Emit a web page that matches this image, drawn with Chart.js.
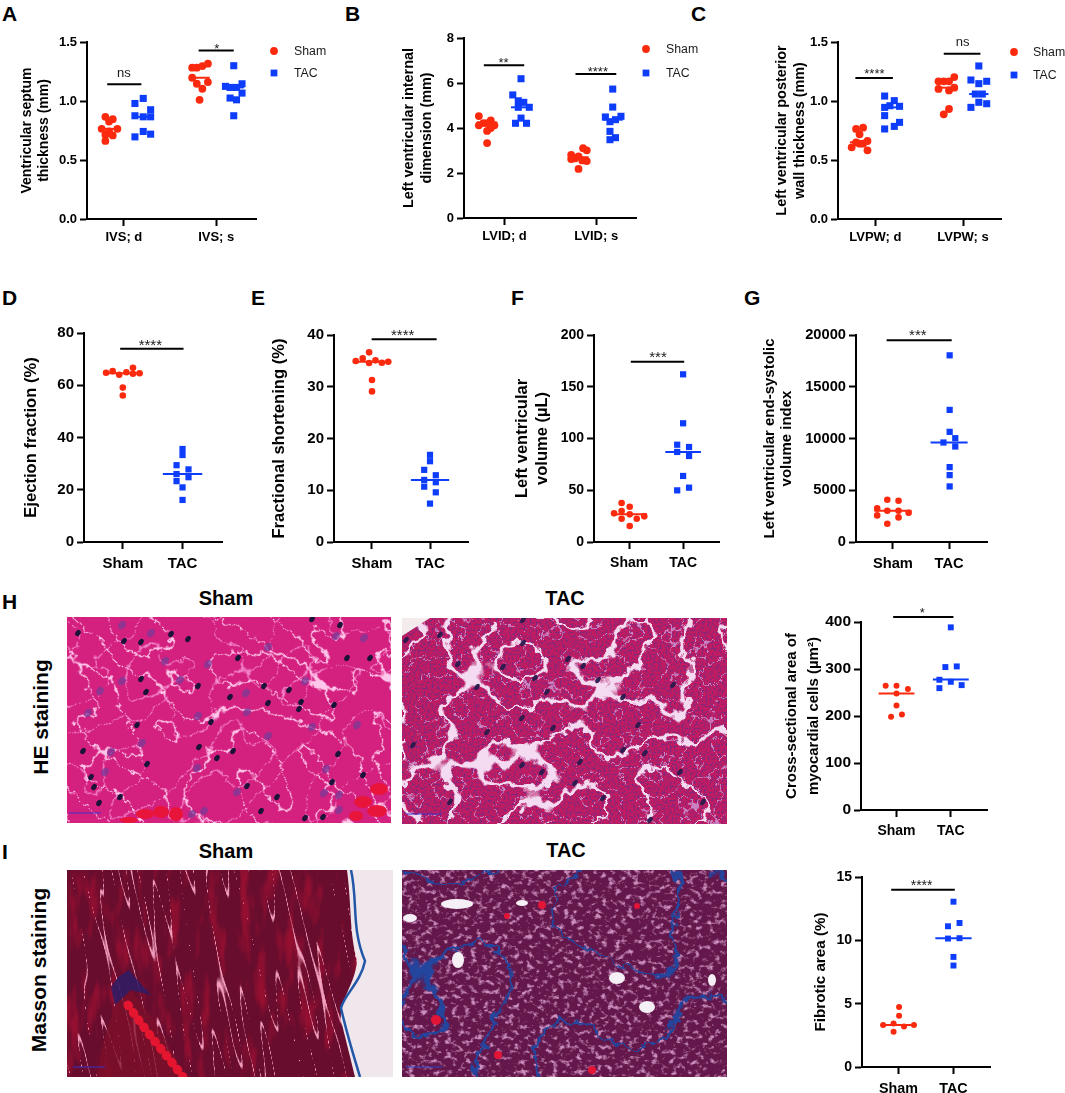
<!DOCTYPE html>
<html><head><meta charset="utf-8">
<script src="https://cdn.jsdelivr.net/npm/chart.js@4"></script>
<style>
html,body{margin:0;padding:0;background:#fff}
#page{position:relative;width:1065px;height:1093px;overflow:hidden;font-family:"Liberation Sans",Arial,sans-serif;color:#000}
canvas{position:absolute}
svg.tissue{position:absolute;display:block}
.t{position:absolute;font-weight:bold;white-space:nowrap;line-height:1}
.c{transform:translate(-50%,-50%)}
.r{transform:translate(-50%,-50%) rotate(-90deg)}
</style></head><body><div id="page">
<svg width="0" height="0" style="position:absolute"><defs>
<filter id="heCrack" x="0" y="0" width="100%" height="100%" color-interpolation-filters="sRGB"><feTurbulence type="turbulence" baseFrequency="0.017 0.038" numOctaves="1" seed="4" result="a"/><feColorMatrix in="a" values="0 0 0 0 1 0 0 0 0 .78 0 0 0 0 .92 0 0 0 -70 1.7" result="l"/><feTurbulence type="fractalNoise" baseFrequency="0.12" numOctaves="2" seed="7" result="j"/><feDisplacementMap in="l" in2="j" scale="12" xChannelSelector="R" yChannelSelector="G"/></filter>
<filter id="heCrack2" x="0" y="0" width="100%" height="100%" color-interpolation-filters="sRGB"><feTurbulence type="turbulence" baseFrequency="0.03 0.02" numOctaves="1" seed="12" result="a"/><feColorMatrix in="a" values="0 0 0 0 .98 0 0 0 0 .6 0 0 0 0 .85 0 0 0 -90 1.5" result="l"/><feTurbulence type="fractalNoise" baseFrequency="0.1" numOctaves="2" seed="3" result="j"/><feDisplacementMap in="l" in2="j" scale="10" xChannelSelector="R" yChannelSelector="G"/></filter>
<filter id="grain" x="0" y="0" width="100%" height="100%" color-interpolation-filters="sRGB"><feTurbulence type="fractalNoise" baseFrequency="0.5" numOctaves="2" seed="2"/><feColorMatrix values="0 0 0 0 .48 0 0 0 0 .16 0 0 0 0 .5 0 0 0 3.5 -1.5"/></filter>
<filter id="tacGap" x="0" y="0" width="100%" height="100%" color-interpolation-filters="sRGB"><feTurbulence type="turbulence" baseFrequency="0.021 0.024" numOctaves="1" seed="11" result="a"/><feColorMatrix in="a" values="0 0 0 0 .96 0 0 0 0 .86 0 0 0 0 .95 0 0 0 -34 1.9" result="l"/><feTurbulence type="fractalNoise" baseFrequency="0.09" numOctaves="2" seed="5" result="j"/><feDisplacementMap in="l" in2="j" scale="16" xChannelSelector="R" yChannelSelector="G"/></filter>
<filter id="tacFine" x="0" y="0" width="100%" height="100%" color-interpolation-filters="sRGB"><feTurbulence type="turbulence" baseFrequency="0.05" numOctaves="1" seed="6" result="a"/><feColorMatrix in="a" values="0 0 0 0 .82 0 0 0 0 .62 0 0 0 0 .86 0 0 0 -50 1.3" result="l"/><feTurbulence type="fractalNoise" baseFrequency="0.2" numOctaves="2" seed="5" result="j"/><feDisplacementMap in="l" in2="j" scale="9" xChannelSelector="R" yChannelSelector="G"/></filter>
<filter id="mStreak" x="0" y="0" width="100%" height="100%" color-interpolation-filters="sRGB"><feTurbulence type="turbulence" baseFrequency="0.075 0.006" numOctaves="1" seed="5"/><feColorMatrix values="0 0 0 0 .95 0 0 0 0 .62 0 0 0 0 .74 0 0 0 -55 1.3"/></filter>
<filter id="mRed" x="0" y="0" width="100%" height="100%" color-interpolation-filters="sRGB"><feTurbulence type="fractalNoise" baseFrequency="0.07 0.018" numOctaves="3" seed="8"/><feColorMatrix values="0 0 0 0 .72 0 0 0 0 .07 0 0 0 0 .2 0 0 0 4 -2"/></filter>
<filter id="mBlue" x="0" y="0" width="100%" height="100%" color-interpolation-filters="sRGB"><feTurbulence type="turbulence" baseFrequency="0.011 0.013" numOctaves="1" seed="14" result="a"/><feColorMatrix in="a" values="0 0 0 0 .14 0 0 0 0 .27 0 0 0 0 .62 0 0 0 -75 1.7" result="l"/><feTurbulence type="fractalNoise" baseFrequency="0.08" numOctaves="3" seed="2" result="j"/><feDisplacementMap in="l" in2="j" scale="16" xChannelSelector="R" yChannelSelector="G"/></filter>
<filter id="mPale" x="0" y="0" width="100%" height="100%" color-interpolation-filters="sRGB"><feTurbulence type="fractalNoise" baseFrequency="0.16 0.2" numOctaves="3" seed="3"/><feColorMatrix values="0 0 0 0 .9 0 0 0 0 .68 0 0 0 0 .86 0 0 0 4 -2.1"/></filter>
</defs></svg>

<svg class="tissue" id="heSham" style="left:67px;top:617px" width="324" height="206">
<rect width="324" height="206" fill="#d4207f"/>
<rect x="-80" y="-80" width="484" height="366" filter="url(#heCrack)" transform="rotate(42 162 103)"/>
<rect x="-80" y="-80" width="484" height="366" filter="url(#heCrack2)" transform="rotate(42 162 103)" opacity=".8"/>
<g fill="#e8143a"><ellipse cx="78" cy="197" rx="9" ry="5"/><ellipse cx="94" cy="195" rx="8" ry="6"/><ellipse cx="109" cy="197" rx="7" ry="7"/><ellipse cx="62" cy="203" rx="9" ry="3"/><ellipse cx="296" cy="185" rx="9" ry="6"/><ellipse cx="312" cy="172" rx="9" ry="6"/><ellipse cx="310" cy="194" rx="10" ry="6"/><ellipse cx="289" cy="199" rx="7" ry="5"/></g>
<path d="M2 196 H34" stroke="#3a33c8" stroke-width="1"/>
</svg>

<svg class="tissue" id="heTac" style="left:402px;top:618px" width="325" height="206">
<rect width="325" height="206" fill="#c81a5e"/>
<rect width="325" height="206" filter="url(#grain)"/>
<rect width="325" height="206" filter="url(#tacFine)" opacity=".8"/>
<rect width="325" height="206" filter="url(#tacGap)"/>
<path d="M0 0 H28 L0 18 Z" fill="#f4ecec"/>
<path d="M4 196 H40" stroke="#3a33c8" stroke-width="1"/>
</svg>

<svg class="tissue" id="mSham" style="left:67px;top:870px" width="326" height="207">
<rect width="326" height="207" fill="#680d2e"/>
<rect width="326" height="207" filter="url(#mRed)" opacity=".55"/>
<rect x="-60" y="-60" width="446" height="327" filter="url(#mStreak)" transform="rotate(-11 163 103)"/>
<path d="M30 207 C35 170 45 135 62 118 C90 150 105 180 118 207 Z" fill="#7c0f2a" opacity=".75"/>
<path d="M44 118 C50 105 58 103 62 100 C70 110 78 118 84 125 L64 120 L48 135 Z" fill="#2f1c66" opacity=".85"/>
<path d="M61 135 C85 170 100 185 116 207" stroke="#e3152f" stroke-width="9" stroke-linecap="round" stroke-dasharray="1 8" fill="none"/>
<path d="M280 0 C285 40 282 60 290 91 C288 115 272 130 274 150 C280 175 284 190 288 207 H326 V0 Z" fill="#f0e7ec"/>
<path d="M284 0 C291 31 284 58 298 91 C294 112 277 125 274 138 C280 165 288 190 293 207" stroke="#2257a8" stroke-width="2.5" fill="none"/>
<path d="M6 197 H38" stroke="#3a33c8" stroke-width="1"/>
</svg>

<svg class="tissue" id="mTac" style="left:402px;top:870px" width="325" height="207">
<rect width="325" height="207" fill="#64174a"/>
<rect width="325" height="207" filter="url(#mPale)" opacity=".8"/>
<rect x="-20" y="-20" width="365" height="247" filter="url(#mBlue)"/>
<g fill="#f5f0f5"><ellipse cx="55" cy="34" rx="16" ry="5"/><ellipse cx="8" cy="48" rx="7" ry="4"/><ellipse cx="56" cy="90" rx="6" ry="8"/><ellipse cx="215" cy="108" rx="8" ry="6"/><ellipse cx="245" cy="137" rx="8" ry="6"/><ellipse cx="120" cy="33" rx="6" ry="3"/><ellipse cx="310" cy="110" rx="4" ry="6"/></g>
<g fill="#e31537"><circle cx="140" cy="35" r="4"/><circle cx="235" cy="36" r="3"/><circle cx="34" cy="150" r="5"/><circle cx="190" cy="200" r="4"/><circle cx="96" cy="185" r="4"/><circle cx="105" cy="46" r="3"/></g>
<path d="M4 197 H40" stroke="#2a43c8" stroke-width="1"/>
</svg>

<div class="t" style="left:2px;top:3px;font-size:21px">A</div>
<div class="t" style="left:345px;top:3px;font-size:21px">B</div>
<div class="t" style="left:691px;top:3px;font-size:21px">C</div>
<div class="t" style="left:2px;top:287px;font-size:21px">D</div>
<div class="t" style="left:251px;top:287px;font-size:21px">E</div>
<div class="t" style="left:511px;top:287px;font-size:21px">F</div>
<div class="t" style="left:744px;top:287px;font-size:21px">G</div>
<div class="t" style="left:2px;top:591px;font-size:21px">H</div>
<div class="t" style="left:2px;top:841px;font-size:21px">I</div>
<div class="t c" style="left:226px;top:598px;font-size:20px">Sham</div>
<div class="t c" style="left:565px;top:598px;font-size:20px">TAC</div>
<div class="t c" style="left:226px;top:851px;font-size:20px">Sham</div>
<div class="t c" style="left:566px;top:850px;font-size:20px">TAC</div>
<div class="t r" style="left:40px;top:717px;font-size:21px">HE staining</div>
<div class="t r" style="left:38px;top:970px;font-size:21px">Masson staining</div>
</div>
<script>
const RED='#fb2a0e', BLUE='#0d3dfb';

// Panel A
const ivsLabels=['IVS; d','IVS; s'];
const ivsDSham=[.866,.846,.826,.764,.764,.742,.713,.708,.662], ivsDShamJ=[-4,4,0,-8,9,0,-4,4,-4];
const ivsDTac=[.979,1.022,.926,.875,.866,.866,.742,.696,.719], ivsDTacJ=[-9,0,8,-9,0,8,0,-9,8];
const ivsSSham=[1.282,1.282,1.296,1.316,1.197,1.16,1.146,1.104,1.01], ivsSShamJ=[-8,-3,3,9,-8,9,-3,3,0];
const ivsSTac=[1.299,1.146,1.124,1.115,1.115,1.067,1.025,1.01,.875], ivsSTacJ=[0,9,-9,-4,3,9,-4,3,0];
// Panel B
const lvidLabels=['LVID; d','LVID; s'];
const lvidDSham=[4.53,3.33,4.34,4.12,4.12,4.22,4.0,3.87,4.22], lvidDShamJ=[-9,0,4,-9,8,-4,4,0,0];
const lvidDTac=[6.19,5.47,5.21,5.14,4.92,4.92,4.44,4.21,4.21], lvidDTacJ=[0,-9,-3,3,-3,9,0,-6,6];
const lvidSSham=[3.1,3.01,2.8,2.74,2.65,2.62,2.56,2.53,2.18], lvidSShamJ=[5,9,-8,0,-4,-8,4,9,0];
const lvidSTac=[5.73,4.93,4.49,4.52,4.37,4.28,3.85,3.57,3.48], lvidSTacJ=[0,0,-8,9,3,-3,-3,3,-3];
// Panel C
const lvpwLabels=['LVPW; d','LVPW; s'];
const lvpwDSham=[.763,.774,.718,.661,.65,.638,.638,.607,.582], lvpwDShamJ=[-4,4,0,9,-4,0,4,-9,9];
const lvpwDTac=[1.042,1.003,.946,.96,.955,.876,.819,.785,.763], lvpwDTacJ=[-8,3,-8,-2,9,-8,9,3,-8];
const lvpwSSham=[1.203,1.167,1.167,1.167,1.102,1.113,1.09,.932,.887], lvpwSShamJ=[9,-9,-3,3,-9,9,3,3,-3];
const lvpwSTac=[1.297,1.178,1.167,1.147,1.059,1.059,.989,.977,.946], lvpwSTacJ=[0,-9,9,0,-4,4,0,9,-9];
// Panels D-I
const groupLabels=['Sham','TAC'];
const efSham=[64.8,65.4,64,65,66.7,64.4,64.6,59.1,56.1], efShamJ=[-28,-17,-6,6,17,17,28,0,0];
const efTac=[35.6,33.3,29.4,27.8,26,24.8,23.3,20.9,16.1], efTacJ=[0,0,-10,10,-10,10,-10,0,0];
const fsSham=[34.97,35.48,36.65,34.58,35.1,34.65,34.84,31.29,29.1], fsShamJ=[-28,-16,-5,-5,6,17,28,0,0];
const fsTac=[16.84,15.61,13.94,12.9,12,11.55,10.7,9.6,7.42], fsTacJ=[0,0,-10,10,-10,10,-10,10,0];
const lvvSham=[37.7,34.1,30,27.7,26.7,22.5,22.5,24.8,15.5], lvvShamJ=[-14,1,-14,-28,1,-14,14,28,1];
const lvvTac=[162,114.7,94,91.8,87,83.1,63.8,52.5,49.9], lvvTacJ=[0,0,-11,11,-11,11,0,11,-11];
const esviSham=[4083,3987,3247,3022,3022,2829,2572,2379,1768], esviShamJ=[-10,10,-28,-10,10,28,-28,10,-10];
const esviTac=[18036,12764,10642,10031,9613,9227,7234,6462,5369], esviTacJ=[1,1,1,11,-10,11,1,1,1];
const csaSham=[264.3,264.3,257.2,248,222.4,198.2,203.2], csaShamJ=[-20,0,21,0,0,-10,10];
const csaTac=[388.6,304.1,305.5,277.1,272.8,265.7,259.3], csaTacJ=[0,-10,11,-21,0,20,-21];
const fibSham=[4.73,4.05,3.44,3.31,3.2,3.31,2.78], fibShamJ=[1,1,-9,-28,10,28,-9];
const fibTac=[13.05,11.37,11.11,10.14,10.17,8.69,8.01], fibTacJ=[0,11,-10,-10,11,0,0];

// Stained-micrograph stand-ins: nuclei seen in the two HE photographs (image pixels)
const heShamDark=[[11,16],[57,24],[104,17],[121,22],[74,25],[171,41],[197,69],[222,73],[280,41],[303,41],[273,8],[245,2],[74,62],[79,75],[131,69],[201,86],[234,85],[232,92],[267,88],[70,108],[144,105],[132,130],[166,134],[271,137],[265,165],[24,160],[27,170],[80,147],[16,134],[180,169],[210,180],[194,194],[238,201],[256,200],[32,186],[53,180],[150,141],[163,80],[296,158]];
const heShamPale=[[55,8],[84,16],[269,19],[297,21],[98,44],[141,47],[201,30],[55,64],[33,74],[113,63],[179,76],[238,64],[21,96],[131,99],[180,95],[290,108],[245,110],[201,119],[75,126],[44,135],[130,151],[38,155],[259,152],[170,175],[257,176],[137,194],[272,193],[125,197],[272,178]];
const heTacDark=[[4,22],[38,17],[56,46],[75,69],[133,60],[101,49],[121,25],[166,41],[181,48],[196,62],[221,79],[236,107],[221,132],[243,135],[271,67],[85,114],[151,110],[120,100],[120,147],[178,144],[173,165],[201,180],[248,202],[301,184],[278,154],[48,184],[121,2],[145,74],[140,154],[11,127]];
function addNuclei(id,list,fill,rx,ry,op){
  const s=document.getElementById(id);
  const g=document.createElementNS('http://www.w3.org/2000/svg','g');
  g.setAttribute('fill',fill);g.setAttribute('opacity',op);
  list.forEach(([x,y])=>{const e=document.createElementNS('http://www.w3.org/2000/svg','ellipse');
    e.setAttribute('cx',x);e.setAttribute('cy',y);e.setAttribute('rx',rx);e.setAttribute('ry',ry);
    e.setAttribute('transform','rotate(35 '+x+' '+y+')');g.appendChild(e);});
  s.appendChild(g);
}
addNuclei('heSham',heShamPale,'#7a3a98',3.6,4.6,.75);
addNuclei('heSham',heShamDark,'#1a1238',2.4,3.4,1);
addNuclei('heTac',heTacDark,'#2a1a4c',2.2,3.6,.95);

const FONT='"Liberation Sans", Arial, sans-serif';
const pts=(v,j,c)=>v.map((y,i)=>({x:c+j[i]/100,y}));

const overlay={id:'overlay',afterDatasetsDraw(ch,a,o){
  const c=ch.ctx,X=ch.scales.x,Y=ch.scales.y;c.save();
  (o.sig||[]).forEach(s=>{
    const f=s.t==='ns'?13:o.starSize;
    c.font=f+'px '+FONT;c.fillStyle='#1a1a1a';c.textAlign='center';c.textBaseline='alphabetic';
    c.fillText(s.t,X.getPixelForValue(s.x),Y.getPixelForValue(s.y)+(s.t==='ns'?.26:.59)*f);
  });
  if(o.legend){const L=o.legend,x0=ch.chartArea.right+L.dx,top=ch.chartArea.top;
    c.font='12.3px '+FONT;c.textAlign='left';c.textBaseline='middle';
    [['Sham',RED,L.y1,true],['TAC',BLUE,L.y2,false]].forEach(([t,col,dy,circ])=>{
      c.fillStyle=col;
      if(circ){c.beginPath();c.arc(x0,top+dy,o.r,0,Math.PI*2);c.fill();}
      else{c.fillRect(x0-3.4,top+dy-3.4,6.8,6.8);}
      c.fillStyle='#1a1a1a';c.fillText(t,x0+L.text,top+dy+.5);
    });
  }
  c.restore();
}};

function panel(p){
  const lh=p.lineH, cl=Math.round(p.titleX-lh/2), ct=p.plot.t-30, cb=p.plot.b+40;
  const cr=p.plot.r+(p.legend?75:12);
  const cv=document.createElement('canvas');
  cv.width=cr-cl;cv.height=cb-ct;cv.style.left=cl+'px';cv.style.top=ct+'px';
  document.getElementById('page').appendChild(cv);
  const ds=[];
  p.groups.forEach(g=>{
    ds.push({label:g.tac?'TAC':'Sham',data:pts(g.v,g.j,g.c),showLine:false,clip:false,
      pointStyle:g.tac?'rect':'circle',pointRadius:g.tac?p.rRect:p.rCirc,pointBorderWidth:0,
      pointBackgroundColor:g.tac?BLUE:RED,pointBorderColor:g.tac?BLUE:RED});
    ds.push({label:'median',data:[{x:g.c-p.half,y:g.m},{x:g.c+p.half,y:g.m}],showLine:true,clip:false,
      pointRadius:0,borderWidth:2,borderColor:g.tac?BLUE:RED});
  });
  p.brackets.forEach(b=>ds.push({label:'bracket',data:[{x:b[0],y:b[2]},{x:b[1],y:b[2]}],showLine:true,clip:false,pointRadius:0,borderWidth:2,borderColor:'#000'}));
  new Chart(cv,{type:'scatter',data:{datasets:ds},plugins:[overlay],options:{
    responsive:false,animation:false,devicePixelRatio:1,
    layout:{padding:{top:30,right:cr-p.plot.r,left:0,bottom:0}},
    plugins:{legend:{display:false},tooltip:{enabled:false},
      overlay:{sig:p.sig,legend:p.legend,starSize:p.star,r:p.rCirc}},
    scales:{
      x:{type:'linear',min:p.xr[0],max:p.xr[1],
        afterBuildTicks(s){s.ticks=[{value:1},{value:2}];},
        afterFit(s){s.height=40;},
        grid:{drawOnChartArea:false,drawTicks:true,tickLength:7,tickWidth:2,tickColor:'#000'},
        border:{display:true,color:'#000',width:2},
        ticks:{autoSkip:false,maxRotation:0,padding:p.xPad,color:'#000',font:{family:FONT,size:p.xSize,weight:'bold'},
          callback:(v)=>p.labels[v-1]}},
      y:{type:'linear',min:0,max:p.yMax,
        afterFit(s){s.width=p.plot.l-cl;},
        grid:{drawOnChartArea:false,drawTicks:true,tickLength:7,tickWidth:2,tickColor:'#000'},
        border:{display:true,color:'#000',width:2},
        ticks:{stepSize:p.step,padding:3,color:'#000',font:{family:FONT,size:p.ySize,weight:'bold'},
          callback:v=>p.decimals?v.toFixed(p.decimals):String(v)},
        title:{display:true,text:p.title,color:'#000',padding:0,
          font:{family:FONT,size:p.tSize,weight:'bold',lineHeight:lh/p.tSize}}}
    }}});
}
const four=(a,aj,b,bj,c,cj,d,dj,ms,cs)=>[
  {v:a,j:aj,c:cs[0],m:ms[0]},{v:b,j:bj,c:cs[1],m:ms[1],tac:true},
  {v:c,j:cj,c:cs[2],m:ms[2]},{v:d,j:dj,c:cs[3],m:ms[3],tac:true}];
const two=(a,aj,b,bj,ms)=>[{v:a,j:aj,c:1,m:ms[0]},{v:b,j:bj,c:2,m:ms[1],tac:true}];

panel({plot:{l:87,r:256,t:42,b:219},xr:[.601,2.431],yMax:1.5,step:.5,decimals:1,labels:ivsLabels,
  title:['Ventricular septum','thickness (mm)'],titleX:27,lineH:16.6,tSize:14,ySize:13,xSize:13,xPad:4,star:13,half:.11,rCirc:3.9,rRect:5,
  groups:four(ivsDSham,ivsDShamJ,ivsDTac,ivsDTacJ,ivsSSham,ivsSShamJ,ivsSTac,ivsSTacJ,[.764,.866,1.197,1.115],[.84,1.21,1.82,2.19]),
  brackets:[[.82,1.19,1.143],[1.81,2.19,1.427]],sig:[{t:'ns',x:1,y:1.231},{t:'*',x:2.007,y:1.472}],
  legend:{dx:18,y1:9,y2:31,text:20}});
panel({plot:{l:464,r:636,t:38,b:218},xr:[.558,2.434],yMax:8,step:2,labels:lvidLabels,
  title:['Left ventricular internal','dimension (mm)'],titleX:409.3,lineH:18,tSize:14.4,ySize:13,xSize:13,xPad:4,star:13,half:.11,rCirc:3.9,rRect:5,
  groups:four(lvidDSham,lvidDShamJ,lvidDTac,lvidDTacJ,lvidSSham,lvidSShamJ,lvidSTac,lvidSTacJ,[4.25,4.92,2.7,4.37],[.81,1.18,1.807,2.18]),
  brackets:[[.774,1.215,6.79],[1.774,2.219,6.4]],sig:[{t:'**',x:.989,y:7.07},{t:'****',x:2.018,y:6.67}],
  legend:{dx:10,y1:11,y2:35,text:20}});
panel({plot:{l:838,r:1001,t:42,b:219},xr:[.574,2.433],yMax:1.5,step:.5,decimals:1,labels:lvpwLabels,
  title:['Left ventricular posterior','wall thickness (mm)'],titleX:781.7,lineH:17.7,tSize:14.4,ySize:13,xSize:13,xPad:4,star:13,half:.11,rCirc:3.9,rRect:5,
  groups:four(lvpwDSham,lvpwDShamJ,lvpwDTac,lvpwDTacJ,lvpwSSham,lvpwSShamJ,lvpwSTac,lvpwSTacJ,[.65,.946,1.113,1.059],[.82,1.186,1.81,2.18]),
  brackets:[[.772,1.2,1.195],[1.78,2.198,1.401]],sig:[{t:'****',x:.989,y:1.257},{t:'ns',x:1.996,y:1.497}],
  legend:{dx:13,y1:10,y2:33,text:19}});
panel({plot:{l:84,r:222,t:333,b:542},xr:[.35,2.661],yMax:80,step:20,labels:groupLabels,
  title:'Ejection fraction (%)',titleX:31.7,lineH:19,tSize:16.6,ySize:15,xSize:15,xPad:6,star:15,half:.33,rCirc:3.3,rRect:4.4,
  groups:two(efSham,efShamJ,efTac,efTacJ,[64.6,26]),brackets:[[.956,2.017,74]],sig:[{t:'****',x:1.461,y:77.05}]});
panel({plot:{l:334,r:468,t:335,b:542},xr:[.345,2.655],yMax:40,step:10,labels:groupLabels,
  title:'Fractional shortening (%)',titleX:279.3,lineH:19,tSize:16.6,ySize:15,xSize:15,xPad:6,star:15,half:.33,rCirc:3.3,rRect:4.4,
  groups:two(fsSham,fsShamJ,fsTac,fsTacJ,[34.84,12]),brackets:[[.994,2.115,39.2]],sig:[{t:'****',x:1.529,y:40.84}]});
panel({plot:{l:594,r:719,t:335,b:542},xr:[.348,2.665],yMax:200,step:50,labels:groupLabels,
  title:['Left ventricular','volume (µL)'],titleX:521.7,lineH:20,tSize:16.5,ySize:14,xSize:14,xPad:6,star:15,half:.33,rCirc:3.3,rRect:4.4,
  groups:two(lvvSham,lvvShamJ,lvvTac,lvvTacJ,[26.7,87]),brackets:[[1.03,2.02,174.2]],sig:[{t:'***',x:1.534,y:182.9}]});
panel({plot:{l:856,r:987,t:335,b:542},xr:[.343,2.675],yMax:20000,step:5000,labels:groupLabels,
  title:['Left ventricular end-systolic','volume index'],titleX:770,lineH:16.7,tSize:15,ySize:14.7,xSize:14.7,xPad:6,star:15,half:.33,rCirc:3.3,rRect:4.4,
  groups:two(esviSham,esviShamJ,esviTac,esviTacJ,[3022,9613]),brackets:[[.888,2.047,19483]],sig:[{t:'***',x:1.444,y:20415}]});
panel({plot:{l:861,r:987,t:622,b:810},xr:[.346,2.667],yMax:400,step:100,labels:groupLabels,
  title:['Cross-sectional area of','myocardial cells (µm²)'],titleX:791.7,lineH:21.7,tSize:15,ySize:15.5,xSize:14,xPad:6,star:13,half:.33,rCirc:3,rRect:4.2,
  groups:two(csaSham,csaShamJ,csaTac,csaTacJ,[248,277.5]),brackets:[[.938,2.049,410.7]],sig:[{t:'*',x:1.475,y:426.3}]});
panel({plot:{l:862,r:990,t:877,b:1067},xr:[.335,2.665],yMax:15,step:5,labels:groupLabels,
  title:'Fibrotic area (%)',titleX:820.7,lineH:18,tSize:15.2,ySize:14,xSize:14.3,xPad:6,star:14,half:.33,rCirc:3,rRect:4.2,
  groups:two(fibSham,fibShamJ,fibTac,fibTacJ,[3.31,10.17]),brackets:[[.866,2.024,14]],sig:[{t:'****',x:1.42,y:14.6}]});
</script>
</body></html>
